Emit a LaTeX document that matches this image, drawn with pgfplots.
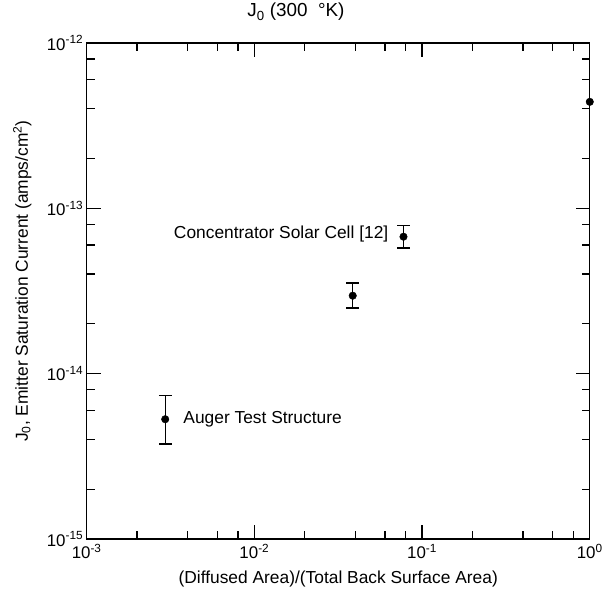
\documentclass[border=0pt]{standalone}
\usepackage{pgfplots}
\pgfplotsset{compat=1.18}
\usepackage{fontspec}
\setmainfont{Liberation Sans}
\usetikzlibrary{calc}

\begin{document}
\begin{tikzpicture}
\begin{axis}[
  scale only axis,
  width=505bp, height=498bp,
  xmode=log, ymode=log,
  xmin=1e-3, xmax=1, ymin=1e-15, ymax=1e-12,
  font=\fontsize{17.5}{21}\selectfont,
  tick label style={font=\fontsize{17}{20}\selectfont},
  xticklabel style={yshift=-2bp},
  axis line style={line width=1.4pt},
  every tick/.style={black, line width=1.3pt},
  tick align=inside,
  major tick length=14bp,
  minor tick length=8bp,
  xtick={1e-3,1e-2,1e-1,1},
  xticklabels={10\textsuperscript{-3},10\textsuperscript{-2},10\textsuperscript{-1},10\textsuperscript{0}},
  ytick={1e-15,1e-14,1e-13,1e-12},
  yticklabels={10\textsuperscript{-15},10\textsuperscript{-14},10\textsuperscript{-13},10\textsuperscript{-12}},
  minor xtick={2e-3,4e-3,6e-3,8e-3,2e-2,4e-2,6e-2,8e-2,2e-1,4e-1,6e-1,8e-1},
  minor ytick={2e-15,4e-15,6e-15,8e-15,2e-14,4e-14,6e-14,8e-14,2e-13,4e-13,6e-13,8e-13},
  title={J\textsubscript{0} (300\ \ °K)},
  title style={at={(axis description cs:0.416,1.05)}, anchor=center, font=\fontsize{19}{22}\selectfont},
  xlabel={(Diffused Area)/(Total Back Surface Area)},
  xlabel style={at={(axis description cs:0.5,-0.08)}, anchor=center},
  ylabel={J\textsubscript{0}, Emitter Saturation Current (amps/cm\textsuperscript{2})},
  ylabel style={at={(axis description cs:-0.128,0.52)}, anchor=center},
  clip=false,
]
% measured points with error bars
\addplot[only marks, mark=*, mark size=3.8pt, black,
  error bars/.cd, y dir=both, y explicit,
  error bar style={line width=1.4pt},
  error mark options={line width=1.4pt, mark size=6.5pt, rotate=90}]
coordinates {
  (2.94e-3, 5.3e-15)  += (0, 2.1e-15)  -= (0, 1.54e-15)
  (0.0386, 2.96e-14)  += (0, 0.58e-14) -= (0, 0.47e-14)
  (0.0775, 6.73e-14)  += (0, 1.15e-14) -= (0, 0.99e-14)
};
% point without error bar
\addplot[only marks, mark=*, mark size=3.8pt, black]
coordinates {(1.0, 4.4e-13)};

\node[anchor=east] at (axis cs:0.066,6.95e-14) {Concentrator Solar Cell [12]};
\node[anchor=west] at (axis cs:3.6e-3,5.3e-15) {Auger Test Structure};
\end{axis}
\path ($(current axis.south west)+(-87bp,-62bp)$) rectangle ($(current axis.north east)+(14bp,40bp)$);
\end{tikzpicture}
\end{document}
